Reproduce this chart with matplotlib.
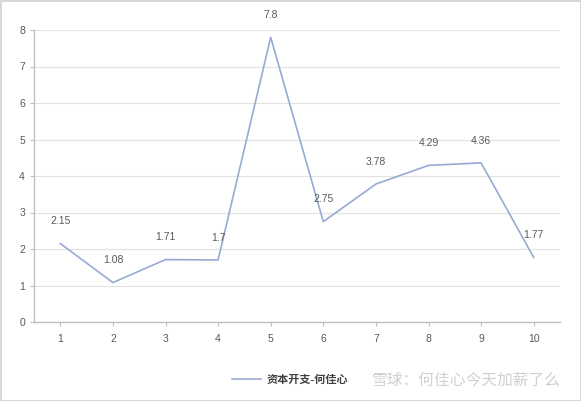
import matplotlib.pyplot as plt
from matplotlib.patches import Rectangle

plt.rcParams['font.family'] = ['Liberation Sans', 'Noto Sans CJK SC', 'DejaVu Sans']

x_vals = [1, 2, 3, 4, 5, 6, 7, 8, 9, 10]
capex = [2.15, 1.08, 1.71, 1.7, 7.8, 2.75, 3.78, 4.29, 4.36, 1.77]
labels = ["2.15", "1.08", "1.71", "1.7", "7.8", "2.75", "3.78", "4.29", "4.36", "1.77"]
series_name = "资本开支-何佳心"

W, H = 581, 401
fig = plt.figure(figsize=(W / 100, H / 100), dpi=100)
ax = fig.add_axes([34 / W, 1 - 322 / H, (560 - 34) / W, (322 - 30) / H])

line_color = "#98A9D6"
text_color = "#595959"

ax.plot(x_vals, capex, color=line_color, lw=1.2, label=series_name)
for xv, yv, lab in zip(x_vals, capex, labels):
    ax.annotate(lab, (xv, yv), xytext=(0, 16), textcoords="offset points",
                ha="center", va="center", fontsize=7.5, color=text_color)

ax.set_xlim(0.5, 10.5)
ax.set_ylim(0, 8)
ax.set_xticks(x_vals)
ax.set_yticks(range(0, 9))
ax.grid(axis="y", color="#e3e3e3", lw=0.9)
ax.set_axisbelow(True)
for s in ["top", "right"]:
    ax.spines[s].set_visible(False)
for s in ["left", "bottom"]:
    ax.spines[s].set_color("#bfbfbf")
    ax.spines[s].set_linewidth(1.0)
ax.tick_params(axis="both", colors="#bfbfbf", labelcolor=text_color, labelsize=7.5,
               length=3, width=0.8)
ax.tick_params(axis="x", pad=6)

leg = fig.legend(loc="center left", bbox_to_anchor=(222 / W, 1 - 380 / H), frameon=False,
                 fontsize=8, handlelength=2.6, handletextpad=0.5)
for t in leg.get_texts():
    t.set_color("#404040")
    t.set_fontweight("bold")

fig.text(372 / W, 1 - 381 / H, "雪球：何佳心今天加薪了么", fontsize=11.3,
         color="#d0d0d0", va="center", ha="left", family="Noto Sans CJK SC")

fig.patches.append(Rectangle((0.5 / W, 0.5 / H), (W - 1) / W, (H - 1) / H,
                             transform=fig.transFigure, fill=False,
                             edgecolor="#d0d0d0", lw=1.2))

fig.savefig("out.png", dpi=100, facecolor="white")
